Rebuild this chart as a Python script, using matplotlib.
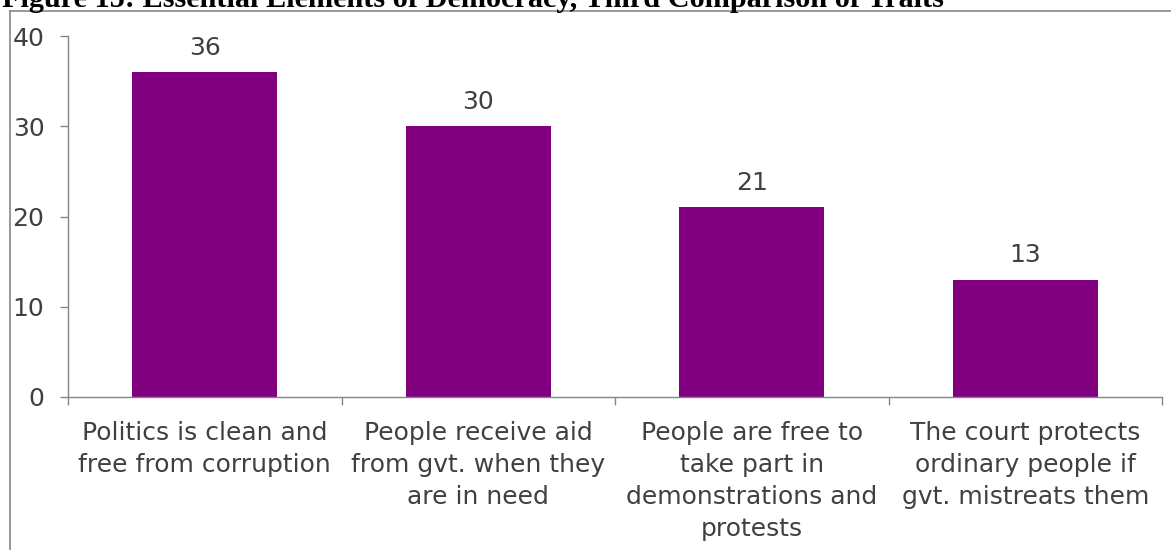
import matplotlib
matplotlib.use("Agg")
import matplotlib.pyplot as plt
from matplotlib.lines import Line2D

categories = [
    "Politics is clean and\nfree from corruption",
    "People receive aid\nfrom gvt. when they\nare in need",
    "People are free to\ntake part in\ndemonstrations and\nprotests",
    "The court protects\nordinary people if\ngvt. mistreats them",
]
values = [36, 30, 21, 13]
yticks = [0, 10, 20, 30, 40]
title = "Figure 15: Essential Elements of Democracy, Third Comparison of Traits"

BAR = "#800080"
AXC = "#868686"
TXT = "#404040"

plt.rcParams['font.family'] = ['DejaVu Sans']

W, H = 1171, 550
fig = plt.figure(figsize=(W / 100, H / 100), dpi=100)
ax = fig.add_axes([68 / W, 1 - 397 / H, (1162 - 68) / W, (397 - 36) / H])

n = len(values)
x = list(range(n))
ax.bar(x, values, width=0.53, color=BAR, zorder=2)
for xi, v in zip(x, values):
    ax.annotate(str(v), (xi, v), xytext=(0, 9), textcoords="offset points",
                ha="center", va="bottom", fontsize=18, color=TXT)

ax.set_xlim(-0.5, n - 0.5)
ax.set_ylim(0, 40)
ax.set_yticks(yticks)
ax.set_yticklabels([str(t) for t in yticks])
ax.set_xticks(x)
ax.set_xticklabels(categories, fontsize=18, color=TXT, linespacing=1.42)
ax.set_xticks([i - 0.5 for i in range(n + 1)], minor=True)

ax.tick_params(axis="x", which="major", length=0, pad=17)
ax.tick_params(axis="x", which="minor", length=6, width=1.0, color=AXC, direction="out")
ax.tick_params(axis="y", length=6, width=1.0, color=AXC, direction="out",
               labelsize=18, labelcolor=TXT, pad=11)

for s in ("top", "right"):
    ax.spines[s].set_visible(False)
for s in ("left", "bottom"):
    ax.spines[s].set_color(AXC)
    ax.spines[s].set_linewidth(1.0)

# outer chart frame
fig.add_artist(Line2D([10 / W, 1.0], [1 - 11 / H, 1 - 11 / H], transform=fig.transFigure,
                      color=AXC, linewidth=1.2))
fig.add_artist(Line2D([10 / W, 10 / W], [1 - 11 / H, 0], transform=fig.transFigure,
                      color=AXC, linewidth=1.2))

fig.text(2 / W, 1 - 7 / H, title, fontsize=21.8, fontweight="bold",
         family=["Liberation Serif"], color="black", ha="left", va="baseline")

fig.savefig("out.png", dpi=100, facecolor="white")
